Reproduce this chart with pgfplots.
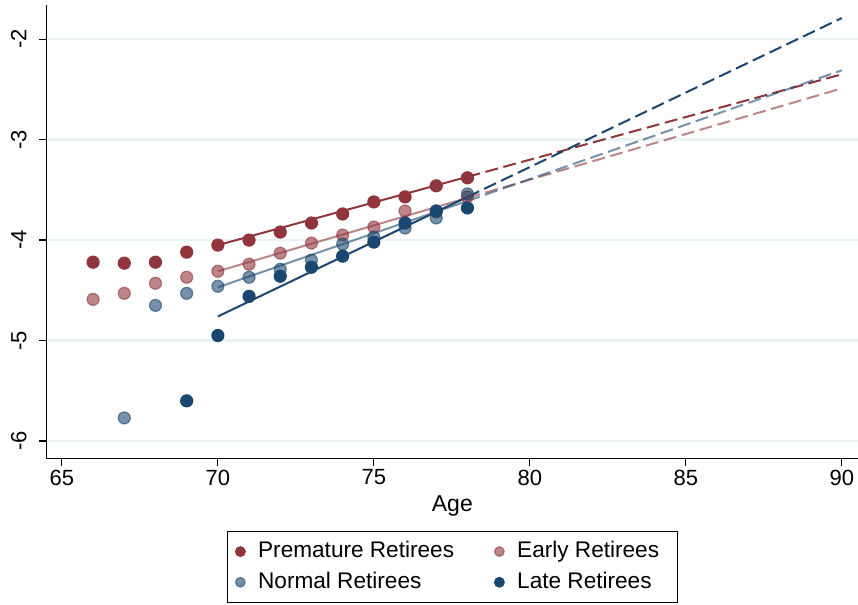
\documentclass[border=0pt]{standalone}
\usepackage{pgfplots}
\pgfplotsset{compat=1.18}
\usepackage{pgfplotstable}
\usepackage{fontspec}
\setmainfont{Liberation Sans}
\usetikzlibrary{calc}
\definecolor{maroon}{RGB}{144,53,59}
\definecolor{navy}{RGB}{26,71,111}
\definecolor{gridc}{RGB}{234,242,243}

\pgfplotstableread{
age val
66 -4.22
67 -4.23
68 -4.22
69 -4.12
70 -4.05
71 -4.00
72 -3.92
73 -3.83
74 -3.74
75 -3.62
76 -3.57
77 -3.46
78 -3.38
}\premature
\pgfplotstableread{
age val
66 -4.59
67 -4.53
68 -4.43
69 -4.37
70 -4.31
71 -4.24
72 -4.13
73 -4.03
74 -3.95
75 -3.87
76 -3.71
77 -3.72
78 -3.57
}\early
\pgfplotstableread{
age val
67 -5.77
68 -4.65
69 -4.53
70 -4.46
71 -4.37
72 -4.29
73 -4.20
74 -4.04
75 -3.97
76 -3.88
77 -3.78
78 -3.54
}\normal
\pgfplotstableread{
age val
69 -5.60
70 -4.95
71 -4.56
72 -4.36
73 -4.27
74 -4.16
75 -4.02
76 -3.83
77 -3.71
78 -3.68
}\late

\begin{document}
\begin{tikzpicture}
\begin{axis}[
  scale only axis, width=405.65pt, height=226.75pt,
  xmin=64.513, xmax=90.52, ymin=-6.174, ymax=-1.66,
  axis lines*=left,
  axis line style={-, black, line width=0.6pt},
  xtick={65,70,75,80,85,90}, ytick={-6,-5,-4,-3,-2},
  minor tick num=0,
  tick align=outside, major tick length=3.9pt,
  tick style={black, line width=0.6pt},
  ymajorgrids, grid style={gridc, line width=1.2pt},
  /pgf/number format/assume math mode=true,
  every tick label/.append style={font=\fontsize{11}{13}\selectfont, inner sep=1.5pt},
  yticklabel style={rotate=90, anchor=south},
  yticklabel shift=4.5pt,
  xlabel={Age}, xlabel style={font=\fontsize{11.5}{13}\selectfont},
  legend columns=2, legend cell align=left,
  legend style={
    at={(0.5,0)}, anchor=north, yshift=-36.4pt,
    draw=black, line width=0.5pt,
    font=\fontsize{11.3}{13}\selectfont,
    inner xsep=4.15pt, inner ysep=4.6pt,
    row sep=4.75pt,
    nodes={inner sep=0pt, text height=8.2pt, text depth=2.4pt},
    /tikz/every odd column/.append style={column sep=6.5pt},
    /tikz/every even column/.append style={column sep=20.25pt},
  },
  legend image code/.code={\draw[#1, mark size=2.4pt] plot coordinates {(0pt,0pt)};},
]
\coordinate (sw) at (rel axis cs:0,0);
\coordinate (ne) at (rel axis cs:1,1);

% scatter
\addplot[only marks, mark=*, mark size=3.0pt, mark options={line width=0.6pt, draw=maroon, fill=maroon}] table[x=age,y=val]{\premature};
\addlegendentry{Premature Retirees}
\addplot[only marks, mark=*, mark size=3.0pt, mark options={line width=0.6pt, draw=maroon, fill=maroon, fill opacity=0.6, draw opacity=0.6}] table[x=age,y=val]{\early};
\addlegendentry{Early Retirees\rule{5pt}{0pt}}
\addplot[only marks, mark=*, mark size=3.0pt, mark options={line width=0.6pt, draw=navy, fill=navy, fill opacity=0.6, draw opacity=0.6}] table[x=age,y=val]{\normal};
\addlegendentry{Normal Retirees}
\addplot[only marks, mark=*, mark size=3.0pt, mark options={line width=0.6pt, draw=navy, fill=navy}] table[x=age,y=val]{\late};
\addlegendentry{Late Retirees\rule{5pt}{0pt}}

% fitted lines
\addplot[forget plot, no marks, maroon, line width=1pt] coordinates {(70,-4.05) (78,-3.37)};
\addplot[forget plot, no marks, maroon, line width=1pt, dash pattern=on 6.5pt off 2.8pt] coordinates {(78,-3.37) (90,-2.35)};
\addplot[forget plot, no marks, maroon, opacity=0.6, line width=1pt] coordinates {(70,-4.31) (78,-3.58)};
\addplot[forget plot, no marks, maroon, opacity=0.6, line width=1pt, dash pattern=on 6.5pt off 2.8pt] coordinates {(78,-3.58) (90,-2.49)};
\addplot[forget plot, no marks, navy, opacity=0.6, line width=1pt] coordinates {(70,-4.47) (78,-3.61)};
\addplot[forget plot, no marks, navy, opacity=0.6, line width=1pt, dash pattern=on 6.5pt off 2.8pt] coordinates {(78,-3.61) (90,-2.31)};
\addplot[forget plot, no marks, navy, line width=1pt] coordinates {(70,-4.76) (78,-3.57)};
\addplot[forget plot, no marks, navy, line width=1pt, dash pattern=on 6.5pt off 2.8pt] coordinates {(78,-3.57) (90,-1.79)};
\end{axis}
\pgfresetboundingbox
\path ($(sw)+(-23.35pt,-73.25pt)$) rectangle ($(ne)+(0pt,2.5pt)$);
\end{tikzpicture}
\end{document}
